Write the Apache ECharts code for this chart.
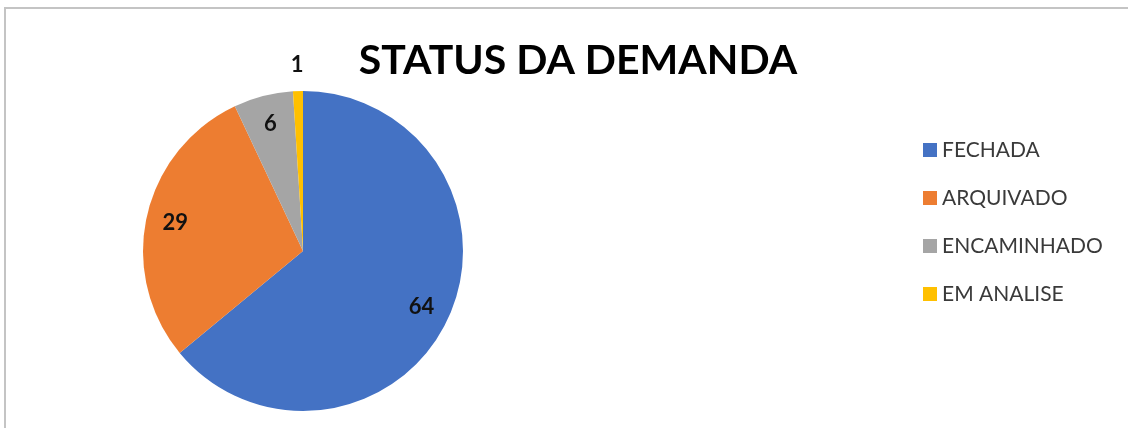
<!DOCTYPE html>
<html>
<head>
<meta charset="utf-8">
<script src="https://cdn.jsdelivr.net/npm/echarts@6/dist/echarts.min.js"></script>
<style>html,body{margin:0;padding:0;background:#fff}#c{width:1128px;height:428px}</style>
</head>
<body>
<div id="c"></div>
<script>
const titleText = 'STATUS DA DEMANDA';
const categories = ['FECHADA', 'ARQUIVADO', 'ENCAMINHADO', 'EM ANALISE'];
const values = [64, 29, 6, 1];
const colors = ['#4472C4', '#ED7D31', '#A5A5A5', '#FFC000'];
const outsideLabel = [false, false, false, true];

const chart = echarts.init(document.getElementById('c'), null, {renderer: 'canvas'});
const center = [303, 251];
const R = 160;
const labelFont = {fontFamily: 'Lato', fontWeight: 'bold', fontSize: 22, color: '#111'};

const baseData = categories.map((n, i) => ({name: n, value: values[i], itemStyle: {color: colors[i]}}));
const insideData = categories.map((n, i) => ({name: n, value: values[i], label: {show: !outsideLabel[i]}}));
const outerData = categories.map((n, i) => ({name: n, value: values[i], label: {show: outsideLabel[i]}}));

chart.setOption({
  animation: false,
  title: {
    text: titleText, left: 573, top: 35, textAlign: 'center',
    textStyle: {fontFamily: 'Lato', fontWeight: 'bold', fontSize: 41, color: '#000'}
  },
  legend: {
    orient: 'vertical', left: 918, top: 134, itemWidth: 14, itemHeight: 14, itemGap: 26,
    icon: 'rect', data: categories,
    textStyle: {fontFamily: 'Lato', fontSize: 21, lineHeight: 22, color: '#3a3a3a', padding: [0, 0, 0, 0]}
  },
  graphic: [{
    type: 'rect', shape: {x: 5, y: 8, width: 1300, height: 600},
    style: {fill: 'none', stroke: '#c4c4c4', lineWidth: 2}, silent: true, z: -10
  }],
  series: [
    {
      type: 'pie', center: center, radius: [0, R], startAngle: 90, clockwise: true,
      data: baseData, label: {show: false}, labelLine: {show: false},
      itemStyle: {borderWidth: 0}, emphasis: {disabled: true}, silent: true
    },
    {
      type: 'pie', center: center, radius: [R * 0.6, R], startAngle: 90, clockwise: true,
      data: insideData, itemStyle: {color: 'rgba(0,0,0,0)', borderWidth: 0},
      label: Object.assign({position: 'inside', formatter: '{c}'}, labelFont),
      labelLine: {show: false}, emphasis: {disabled: true}, silent: true, legendHoverLink: false
    },
    {
      type: 'pie', center: center, radius: [0, 366], startAngle: 90, clockwise: true,
      data: outerData, itemStyle: {color: 'rgba(0,0,0,0)', borderWidth: 0},
      label: Object.assign({position: 'inside', formatter: '{c}'}, labelFont),
      labelLine: {show: false}, emphasis: {disabled: true}, silent: true, legendHoverLink: false
    }
  ]
});
</script>
</body>
</html>
